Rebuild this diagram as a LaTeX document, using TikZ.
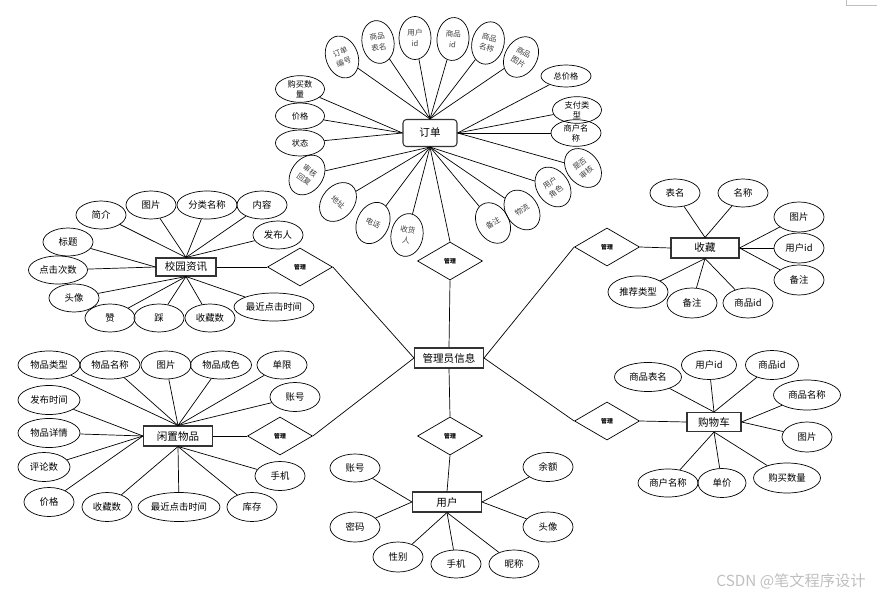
\documentclass[tikz,border=0pt]{standalone}
\usepackage{fontspec}
\setmainfont{Noto Sans CJK SC}
\usetikzlibrary{shapes.geometric}

\begin{document}
\begin{tikzpicture}[
        x=0.03cm, y=-0.03cm,
        every node/.style={
            align=center,
            inner sep=0pt
        },
        entity/.style={
            rectangle,
            draw=black!80,
            line width=0.9pt,
            minimum width=2.07cm,
            minimum height=0.6cm,
            font=\fontsize{9}{9}\selectfont
        },
        attr/.style={
            ellipse,
            draw,
            line width=0.6pt,
            minimum width=1.5cm,
            minimum height=0.84cm,
            font=\fontsize{8}{9}\selectfont
        },
        oattr/.style={
            attr,
            minimum width=0.96cm,
            minimum height=1.29cm,
            text=black!75,
            font=\fontsize{6.5}{9}\selectfont
        },
        sattr/.style={
            attr,
            minimum width=1.47cm,
            minimum height=0.8cm,
            font=\fontsize{7}{8.5}\selectfont
        },
        relation/.style={
            diamond,
            draw,
            line width=0.6pt,
            minimum width=1.95cm,
            minimum height=1.14cm,
            font=\fontsize{5}{5}\selectfont\bfseries
        },
        link/.style={
            line width=0.6pt
        }
    ]
    \useasboundingbox (0,0) rectangle (877,596);

    % 实体
    \node[entity, rounded corners=3pt, minimum width=1.62cm, minimum height=0.81cm] (order) at (430,133) {订单};
    \node[entity] (admin) at (449,358) {管理员信息};
    \node[entity] (user) at (447,502) {用户};
    \node[entity, minimum width=1.8cm, minimum height=0.54cm] (news) at (186,267) {校园资讯};
    \node[entity, minimum width=2.04cm] (fav) at (705,248) {收藏};
    \node[entity] (goods) at (178,436) {闲置物品};
    \node[entity, minimum width=1.62cm, minimum height=0.57cm] (cart) at (714,422) {购物车};

    % 关系
    \node[relation] (rorder) at (450,261) {管理};
    \node[relation] (ruser) at (450,436) {管理};
    \node[relation] (rnews) at (300,267) {管理};
    \node[relation] (rfav) at (607,247) {管理};
    \node[relation] (rgoods) at (280,436) {管理};
    \node[relation] (rcart) at (607,421) {管理};

    % 订单属性
    \node[oattr, rotate=20] (o1) at (342,57) {订单\\编号};
    \node[oattr, rotate=10] (o2) at (378,42) {商品\\表名};
    \node[oattr] (o3) at (415,38) {用户\\id};
    \node[oattr, rotate=-5] (o4) at (453,39) {商品\\id};
    \node[oattr, rotate=-15] (o5) at (488,43) {商品\\名称};
    \node[oattr, rotate=-30] (o6) at (521,57) {商品\\图片};
    \node[sattr] (o7) at (300,89) {购买数\\量};
    \node[sattr, minimum height=0.78cm] (o8) at (300,116) {价格};
    \node[sattr, minimum height=0.78cm] (o9) at (300,143) {状态};
    \node[sattr, minimum width=1.5cm, minimum height=0.66cm] (o10) at (566,76) {总价格};
    \node[sattr] (o11) at (577,110) {支付类\\型};
    \node[sattr, minimum width=1.5cm] (o12) at (576,133) {商户名\\称};
    \node[oattr, rotate=40] (o13) at (583,168) {是否\\审核};
    \node[oattr, rotate=35] (o14) at (553,187) {用户\\角色};
    \node[oattr, rotate=35] (o15) at (522,210) {物流};
    \node[oattr, rotate=30] (o16) at (493,223) {备注};
    \node[oattr, rotate=-10] (o17) at (407,235) {收货\\人};
    \node[oattr, rotate=-25] (o18) at (373,223) {电话};
    \node[oattr, rotate=-40] (o19) at (338,202) {地址};
    \node[oattr, rotate=-35] (o20) at (307,175) {审核\\回复};

    % 校园资讯属性
    \node[attr] (n1) at (101,215) {简介};
    \node[attr] (n2) at (151,205) {图片};
    \node[attr, minimum width=1.8cm] (n3) at (207,205) {分类名称};
    \node[attr] (n4) at (262,205) {内容};
    \node[attr] (n5) at (278,235) {发布人};
    \node[attr] (n6) at (68,242) {标题};
    \node[attr, minimum width=1.77cm] (n7) at (58,270) {点击次数};
    \node[attr] (n8) at (74,298) {头像};
    \node[attr] (n9) at (110,318) {赞};
    \node[attr] (n10) at (159,318) {踩};
    \node[attr] (n11) at (210,318) {收藏数};
    \node[attr, minimum width=2.4cm] (n12) at (274,307) {最近点击时间};

    % 收藏属性
    \node[attr] (f1) at (675,193) {表名};
    \node[attr] (f2) at (743,193) {名称};
    \node[attr, minimum height=0.9cm] (f3) at (799,217) {图片};
    \node[attr, minimum height=0.9cm] (f4) at (799,248) {用户id};
    \node[attr, minimum height=0.9cm] (f5) at (799,280) {备注};
    \node[attr, minimum width=1.8cm, minimum height=0.96cm] (f6) at (638,292) {推荐类型};
    \node[attr, minimum height=0.9cm] (f7) at (692,303) {备注};
    \node[attr, minimum height=0.9cm] (f8) at (748,303) {商品id};

    % 闲置物品属性
    \node[attr, minimum width=1.86cm] (g1) at (49,365) {物品类型};
    \node[attr, minimum width=1.8cm] (g2) at (110,365) {物品名称};
    \node[attr] (g3) at (166,365) {图片};
    \node[attr, minimum width=1.83cm] (g4) at (221,365) {物品成色};
    \node[attr] (g5) at (282,365) {单限};
    \node[attr, minimum height=0.87cm] (g6) at (295,397) {账号};
    \node[attr, minimum width=1.86cm, minimum height=0.87cm] (g7) at (49,400) {发布时间};
    \node[attr, minimum width=1.86cm, minimum height=0.87cm] (g8) at (49,433) {物品详情};
    \node[attr, minimum width=1.56cm, minimum height=0.87cm] (g9) at (44,467) {评论数};
    \node[attr, minimum height=0.87cm] (g10) at (49,502) {价格};
    \node[attr, minimum height=0.87cm] (g11) at (107,507) {收藏数};
    \node[attr, minimum width=2.46cm, minimum height=0.87cm] (g12) at (179,507) {最近点击时间};
    \node[attr, minimum height=0.87cm] (g13) at (252,507) {库存};
    \node[attr, minimum height=0.87cm] (g14) at (280,476) {手机};

    % 购物车属性
    \node[attr, minimum width=2.01cm, minimum height=0.87cm] (c1) at (648,377) {商品表名};
    \node[attr, minimum width=1.65cm, minimum height=0.87cm] (c2) at (709,365) {用户id};
    \node[attr, minimum width=1.59cm, minimum height=0.87cm] (c3) at (772,365) {商品id};
    \node[attr, minimum width=2.01cm, minimum height=0.9cm] (c4) at (807,395) {商品名称};
    \node[attr, minimum height=0.9cm] (c5) at (807,437) {图片};
    \node[attr, minimum width=1.8cm] (c6) at (668,483) {商户名称};
    \node[attr, minimum width=1.44cm, minimum height=0.87cm] (c7) at (722,483) {单价};
    \node[attr, minimum width=2.01cm, minimum height=0.9cm] (c8) at (787,478) {购买数量};

    % 用户属性
    \node[attr] (u1) at (355,468) {账号};
    \node[attr, minimum height=0.9cm] (u2) at (355,527) {密码};
    \node[attr, minimum height=0.9cm] (u3) at (398,557) {性别};
    \node[attr] (u4) at (456,564) {手机};
    \node[attr] (u5) at (514,564) {昵称};
    \node[attr, minimum height=0.87cm] (u6) at (548,467) {余额};
    \node[attr, minimum height=0.9cm] (u7) at (548,527) {头像};

    % 实体与关系
    \draw[link] (order.south) -- (rorder.north);
    \draw[link] (rorder.south) -- (admin.north);
    \draw[link] (admin.south) -- (ruser.north);
    \draw[link] (ruser.south) -- (user.north);
    \draw[link] (news.east) -- (rnews.west);
    \draw[link] (rnews.east) -- (admin.west);
    \draw[link] (goods.east) -- (rgoods.west);
    \draw[link] (rgoods.east) -- (admin.west);
    \draw[link] (fav.west) -- (rfav.east);
    \draw[link] (rfav.west) -- (admin.east);
    \draw[link] (cart.west) -- (rcart.east);
    \draw[link] (rcart.west) -- (admin.east);

    % 订单连线
    \draw[link] (o1) -- (order.north);
    \draw[link] (o2) -- (order.north);
    \draw[link] (o3) -- (order.north);
    \draw[link] (o4) -- (order.north);
    \draw[link] (o5) -- (order.north);
    \draw[link] (o6) -- (order.north);
    \draw[link] (o7) -- (order.west);
    \draw[link] (o8) -- (order.west);
    \draw[link] (o9) -- (order.west);
    \draw[link] (o10) -- (order.east);
    \draw[link] (o11) -- (order.east);
    \draw[link] (o12) -- (order.east);
    \draw[link] (o13) -- (order.east);
    \draw[link] (o14) -- (order.south);
    \draw[link] (o15) -- (order.south);
    \draw[link] (o16) -- (order.south);
    \draw[link] (o17) -- (order.south);
    \draw[link] (o18) -- (order.south);
    \draw[link] (o19) -- (order.south);
    \draw[link] (o20) -- (order.south);

    % 校园资讯连线
    \draw[link] (n1) -- (news.north);
    \draw[link] (n2) -- (news.north);
    \draw[link] (n3) -- (news.north);
    \draw[link] (n4) -- (news.north);
    \draw[link] (n5) -- (news.north);
    \draw[link] (n6) -- (news.west);
    \draw[link] (n7) -- (news.west);
    \draw[link] (n8) -- (news.south);
    \draw[link] (n9) -- (news.south);
    \draw[link] (n10) -- (news.south);
    \draw[link] (n11) -- (news.south);
    \draw[link] (n12) -- (news.south);

    % 收藏连线
    \draw[link] (f1) -- (fav.north);
    \draw[link] (f2) -- (fav.north);
    \draw[link] (f3) -- (fav.east);
    \draw[link] (f4) -- (fav.east);
    \draw[link] (f5) -- (fav.east);
    \draw[link] (f6) -- (fav.south);
    \draw[link] (f7) -- (fav.south);
    \draw[link] (f8) -- (fav.south);

    % 闲置物品连线
    \draw[link] (g1) -- (goods.north);
    \draw[link] (g2) -- (goods.north);
    \draw[link] (g3) -- (goods.north);
    \draw[link] (g4) -- (goods.north);
    \draw[link] (g5) -- (goods.north);
    \draw[link] (g6) -- (goods.north);
    \draw[link] (g7) -- (goods.west);
    \draw[link] (g8) -- (goods.west);
    \draw[link] (g9) -- (goods.west);
    \draw[link] (g10) -- (goods.west);
    \draw[link] (g11) -- (goods.south);
    \draw[link] (g12) -- (goods.south);
    \draw[link] (g13) -- (goods.south);
    \draw[link] (g14) -- (goods.south);

    % 购物车连线
    \draw[link] (c1) -- (cart.north);
    \draw[link] (c2) -- (cart.north);
    \draw[link] (c3) -- (cart.north);
    \draw[link] (c4) -- (cart.east);
    \draw[link] (c5) -- (cart.east);
    \draw[link] (c6) -- (cart.south);
    \draw[link] (c7) -- (cart.south);
    \draw[link] (c8) -- (cart.south);

    % 用户连线
    \draw[link] (u1) -- (user.west);
    \draw[link] (u2) -- (user.west);
    \draw[link] (u3) -- (user.south);
    \draw[link] (u4) -- (user.south);
    \draw[link] (u5) -- (user.south);
    \draw[link] (u6) -- (user.east);
    \draw[link] (u7) -- (user.east);

    % 页角与水印
    \draw[gray!50, line width=0.5pt] (846,0) -- (846,5) -- (877,5);
    \node[text=gray!50, font=\fontsize{13}{13}\selectfont] (mark) at (791,581) {CSDN @笔文程序设计};

    \end{tikzpicture}
\end{document}
